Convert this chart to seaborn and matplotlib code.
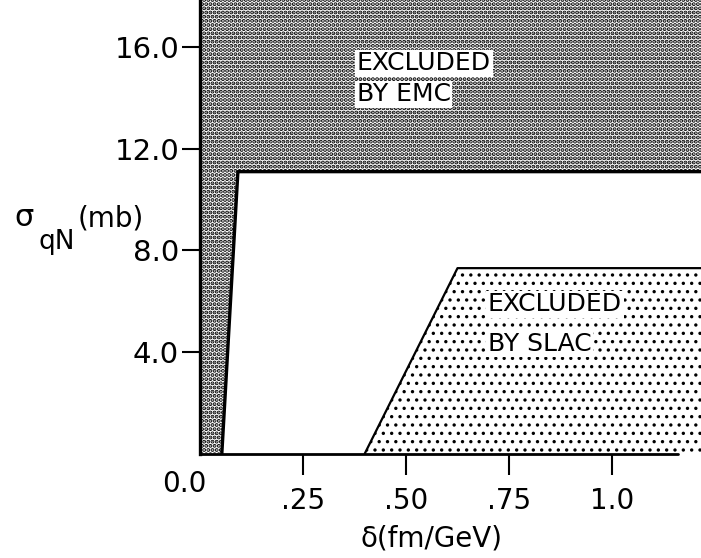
import matplotlib
matplotlib.use("Agg")
import matplotlib.pyplot as plt
import seaborn as sns
import pandas as pd

# ---- data ----
emc_x = [0.0, 0.053, 0.092, 1.22]      # lower boundary of EMC-excluded region
emc_y = [0.0, 0.0, 11.1, 11.1]
slac_x = [0.40, 0.625, 1.22]           # upper boundary of SLAC-excluded region
slac_y = [0.0, 7.3, 7.3]
base_x = [0.0, 1.16]
base_y = [0.0, 0.0]
x_ticks = [0.25, 0.50, 0.75, 1.0]
x_tick_labels = [".25", ".50", ".75", "1.0"]
y_ticks = [4.0, 8.0, 12.0, 16.0]
y_tick_labels = ["4.0", "8.0", "12.0", "16.0"]
x_max = 1.216
y_max = 17.86

sns.set_theme(style="ticks")
plt.rcParams['font.family'] = ['DejaVu Sans']
plt.rcParams['text.color'] = 'black'
plt.rcParams['xtick.color'] = 'black'
plt.rcParams['ytick.color'] = 'black'
plt.rcParams['xtick.labelcolor'] = 'black'
plt.rcParams['ytick.labelcolor'] = 'black'

W, H = 701, 558
fig = plt.figure(figsize=(W / 100, H / 100), dpi=100)
ax = fig.add_axes([200 / W, (H - 453.5) / H, 501 / W, 453.5 / H])
ax.set_xlim(0, x_max)
ax.set_ylim(0, y_max)

# hatched regions
with plt.rc_context({'hatch.linewidth': 2.0}):
    emc_fill = ax.fill_between(emc_x, emc_y, y_max, facecolor='white', edgecolor='black',
                               hatch='....', linewidth=0, zorder=1)
with plt.rc_context({'hatch.linewidth': 1.2}):
    slac_fill = ax.fill_between(slac_x, 0, slac_y, facecolor='white', edgecolor='black',
                                hatch='..', linewidth=0, zorder=1)
try:
    emc_fill.set_hatch_linewidth(2.0)
    slac_fill.set_hatch_linewidth(1.2)
except Exception:
    pass

# boundaries
emc_df = pd.DataFrame({'x': emc_x[1:], 'y': emc_y[1:]})
slac_df = pd.DataFrame({'x': slac_x, 'y': slac_y})
base_df = pd.DataFrame({'x': base_x, 'y': base_y})
sns.lineplot(data=emc_df, x='x', y='y', sort=False, color='black', linewidth=2.4, ax=ax, zorder=3)
sns.lineplot(data=slac_df, x='x', y='y', sort=False, color='black', linewidth=1.6, ax=ax, zorder=3)
sns.lineplot(data=base_df, x='x', y='y', sort=False, color='black', linewidth=2.0, ax=ax, zorder=3,
             clip_on=False)

# spines / ticks
for s in ['top', 'right', 'bottom']:
    ax.spines[s].set_visible(False)
ax.spines['left'].set_linewidth(2.4)
ax.spines['left'].set_color('black')
ax.spines['left'].set_zorder(4)

ax.set_xticks(x_ticks)
ax.set_xticklabels(x_tick_labels)
ax.set_yticks(y_ticks)
ax.set_yticklabels(y_tick_labels)
ax.tick_params(axis='x', direction='out', length=15, width=1.5, pad=9, labelsize=20,
               color='black', labelcolor='black')
ax.tick_params(axis='y', direction='out', length=13, width=1.5, pad=2, labelsize=21,
               color='black', labelcolor='black')
ax.set_xlabel('')
ax.set_ylabel('')

# region labels
lab_font = dict(family=['DejaVu Sans'], fontsize=18, color='black',
                va='baseline', ha='left', zorder=5)
box = dict(facecolor='white', edgecolor='none', pad=1.0)
ax.text(0.381, 15.10, "EXCLUDED", bbox=box, **lab_font)
ax.text(0.381, 13.88, "BY EMC", bbox=box, **lab_font)
ax.text(0.699, 5.61, "EXCLUDED", bbox=box, **lab_font)
ax.text(0.699, 4.04, "BY SLAC", bbox=box, **lab_font)

def px(x, y):
    return x / W, (H - y) / H

# corner "0.0" label
fig.text(*px(184, 484), "0.0", fontsize=20, ha='center', va='center', color='black')
# x label
fig.text(*px(431, 539), "δ(fm/GeV)", fontsize=20, ha='center', va='center', color='black')
# y label
fig.text(*px(14, 226), "σ", fontsize=22, ha='left', va='baseline', color='black')
fig.text(*px(38, 249), "qN", fontsize=19, ha='left', va='baseline', color='black')
fig.text(*px(78, 226), "(mb)", fontsize=20, ha='left', va='baseline', color='black')

fig.savefig("out.png", dpi=100)
